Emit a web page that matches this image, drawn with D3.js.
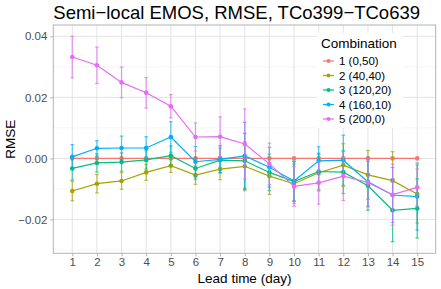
<!DOCTYPE html>
<html>
<head>
<meta charset="utf-8">
<script src="https://cdn.jsdelivr.net/npm/d3@7"></script>
<style>
  body { margin: 0; background: #fff; }
  svg text { font-family: "Liberation Sans", Arial, sans-serif; }
</style>
</head>
<body>
<div id="chart-area"></div>
<script>
var leadTimes = [1, 2, 3, 4, 5, 6, 7, 8, 9, 10, 11, 12, 13, 14, 15];
var seriesNames = ["1 (0,50)", "2 (40,40)", "3 (120,20)", "4 (160,10)", "5 (200,0)"];
var seriesColors = ["#F8766D", "#A3A500", "#00BF7D", "#00B0F6", "#E76BF3"];

var rmse1 = [0, 0, 0, 0, 0, 0, 0, 0, 0, 0, 0, 0, 0, 0, 0];
var rmse2 = [-0.0107, -0.0083, -0.0074, -0.0046, -0.0024, -0.0055, -0.0035, -0.0026, -0.0058, -0.0083, -0.0047, -0.0022, -0.0054, -0.0073, -0.0117];
var rmse3 = [-0.0033, -0.0015, -0.0012, -0.0005, 0.0009, -0.0033, -0.0006, -0.0008, -0.0046, -0.0076, -0.0043, -0.0045, -0.0090, -0.0170, -0.0164];
var rmse4 = [0.0005, 0.0033, 0.0034, 0.0034, 0.0070, -0.0011, -0.0003, 0.0008, -0.0029, -0.0074, -0.0008, -0.0006, -0.0077, -0.0120, -0.0125];
var rmse5 = [0.0332, 0.0305, 0.0249, 0.0215, 0.0171, 0.0070, 0.0071, 0.0047, -0.0018, -0.0092, -0.0080, -0.0058, -0.0079, -0.0119, -0.0095];

var err1 = [0, 0, 0, 0, 0, 0, 0, 0, 0, 0, 0, 0, 0, 0, 0];
var err2 = [0.0032, 0.0030, 0.0027, 0.0026, 0.0022, 0.0030, 0.0035, 0.0080, 0.0060, 0.0065, 0.0060, 0.0070, 0.0080, 0.0095, 0.0095];
var err3 = [0.0038, 0.0030, 0.0030, 0.0030, 0.0032, 0.0035, 0.0040, 0.0090, 0.0060, 0.0065, 0.0060, 0.0070, 0.0080, 0.0103, 0.0097];
var err4 = [0.0040, 0.0025, 0.0039, 0.0037, 0.0050, 0.0050, 0.0045, 0.0110, 0.0065, 0.0065, 0.0046, 0.0082, 0.0080, 0.0090, 0.0110];
var err5 = [0.0068, 0.0060, 0.0050, 0.0050, 0.0038, 0.0046, 0.0065, 0.0115, 0.0068, 0.0065, 0.0070, 0.0080, 0.0080, 0.0100, 0.0060];

var yTicks = [-0.02, 0.00, 0.02, 0.04];
var yMinorTicks = [-0.03, -0.01, 0.01, 0.03];

var chartTitle = "Semi\u2212local EMOS, RMSE, TCo399\u2212TCo639";
var xTitle = "Lead time (day)";
var yTitle = "RMSE";
var legendTitle = "Combination";

var allRmse = [rmse1, rmse2, rmse3, rmse4, rmse5];
var allErr = [err1, err2, err3, err4, err5];

var svgWidth = 441;
var svgHeight = 289;
var panel = { left: 53.3, top: 25, right: 435.7, bottom: 253.3 };

var svg = d3.select("#chart-area")
            .append("svg")
            .attr("width", svgWidth)
            .attr("height", svgHeight);

var x = d3.scaleLinear()
          .domain([0.23, 15.75])
          .range([panel.left, panel.right]);

var y = d3.scaleLinear()
          .domain([-0.0311, 0.0437])
          .range([panel.bottom, panel.top]);

// grid
var grid = svg.append("g");
grid.selectAll("line.minor")
    .data(yMinorTicks)
    .enter().append("line")
    .attr("x1", panel.left).attr("x2", panel.right)
    .attr("y1", (d) => y(d)).attr("y2", (d) => y(d))
    .attr("stroke", "#f0f0f0").attr("stroke-width", 0.6);
grid.selectAll("line.majorY")
    .data(yTicks)
    .enter().append("line")
    .attr("x1", panel.left).attr("x2", panel.right)
    .attr("y1", (d) => y(d)).attr("y2", (d) => y(d))
    .attr("stroke", "#e3e3e3").attr("stroke-width", 1);
grid.selectAll("line.majorX")
    .data(leadTimes)
    .enter().append("line")
    .attr("y1", panel.top).attr("y2", panel.bottom)
    .attr("x1", (d) => x(d)).attr("x2", (d) => x(d))
    .attr("stroke", "#e3e3e3").attr("stroke-width", 1);

// axes
var yAxisCall = d3.axisLeft(y)
                  .tickValues(yTicks)
                  .tickSize(3)
                  .tickPadding(3)
                  .tickFormat((d) => d3.format(".2f")(d).replace("-", "\u2212"));
var yAxis = svg.append("g")
               .attr("transform", "translate(" + panel.left + ",0)")
               .call(yAxisCall);

var xAxisCall = d3.axisBottom(x)
                  .tickValues(leadTimes)
                  .tickSize(3)
                  .tickPadding(2);
var xAxis = svg.append("g")
               .attr("transform", "translate(0," + panel.bottom + ")")
               .call(xAxisCall);

[xAxis, yAxis].forEach(function(a) {
    a.select(".domain").remove();
    a.selectAll(".tick line").attr("stroke", "#b3b3b3");
    a.selectAll(".tick text")
     .attr("fill", "#4d4d4d")
     .attr("font-size", "11.5px")
     .attr("font-family", "Liberation Sans, Arial, sans-serif");
});

// panel border
svg.append("rect")
   .attr("x", panel.left).attr("y", panel.top)
   .attr("width", panel.right - panel.left)
   .attr("height", panel.bottom - panel.top)
   .attr("fill", "none")
   .attr("stroke", "#b3b3b3")
   .attr("stroke-width", 1);

// series
var line = d3.line()
             .x((d) => x(d.t))
             .y((d) => y(d.v));

allRmse.forEach(function(values, i) {
    var pts = leadTimes.map((t, j) => ({ t: t, v: values[j], e: allErr[i][j] }));
    var g = svg.append("g");

    g.selectAll("line.bar")
     .data(pts)
     .enter().append("line")
     .attr("x1", (d) => x(d.t)).attr("x2", (d) => x(d.t))
     .attr("y1", (d) => y(d.v - d.e)).attr("y2", (d) => y(d.v + d.e))
     .attr("stroke", seriesColors[i]).attr("stroke-width", 1.2).attr("opacity", 0.7);
    [-1, 1].forEach(function(s) {
        g.selectAll("line.cap" + s)
         .data(pts)
         .enter().append("line")
         .attr("x1", (d) => x(d.t) - 1.8).attr("x2", (d) => x(d.t) + 1.8)
         .attr("y1", (d) => y(d.v + s * d.e)).attr("y2", (d) => y(d.v + s * d.e))
         .attr("stroke", seriesColors[i]).attr("stroke-width", 1.2).attr("opacity", 0.7);
    });

    g.append("path")
     .datum(pts)
     .attr("d", line)
     .attr("fill", "none")
     .attr("stroke", seriesColors[i])
     .attr("stroke-width", 1.2);

    g.selectAll("circle")
     .data(pts)
     .enter().append("circle")
     .attr("cx", (d) => x(d.t))
     .attr("cy", (d) => y(d.v))
     .attr("r", 2.3)
     .attr("fill", seriesColors[i]);
});

// legend
var legend = svg.append("g");
legend.append("rect")
      .attr("x", 317).attr("y", 33)
      .attr("width", 86).attr("height", 95)
      .attr("fill", "#fff");
legend.append("text")
      .attr("x", 321).attr("y", 48)
      .attr("font-size", "13.5px")
      .attr("fill", "#000")
      .text(legendTitle);
var items = legend.selectAll("g.item")
                  .data(seriesNames)
                  .enter().append("g")
                  .attr("transform", (d, i) => "translate(0," + (61 + i * 14.5) + ")");
items.append("line")
     .attr("x1", 323).attr("x2", 334)
     .attr("stroke", (d, i) => seriesColors[i])
     .attr("stroke-width", 1.2);
items.append("circle")
     .attr("cx", 328.5).attr("r", 2)
     .attr("fill", (d, i) => seriesColors[i]);
items.append("text")
     .attr("x", 339).attr("y", 4)
     .attr("font-size", "11.5px")
     .attr("fill", "#000")
     .text((d) => d);

// titles
svg.append("text")
   .attr("x", panel.left).attr("y", 19)
   .attr("font-size", "18.5px")
   .attr("fill", "#000")
   .text(chartTitle);

svg.append("text")
   .attr("x", (panel.left + panel.right) / 2).attr("y", 283)
   .attr("text-anchor", "middle")
   .attr("font-size", "13.5px")
   .attr("fill", "#000")
   .text(xTitle);

svg.append("g")
   .attr("transform", "translate(15," + (panel.top + panel.bottom) / 2 + ")")
   .append("text")
   .attr("text-anchor", "middle")
   .attr("transform", "rotate(-90)")
   .attr("font-size", "13.5px")
   .attr("fill", "#000")
   .text(yTitle);
</script>
</body>
</html>
